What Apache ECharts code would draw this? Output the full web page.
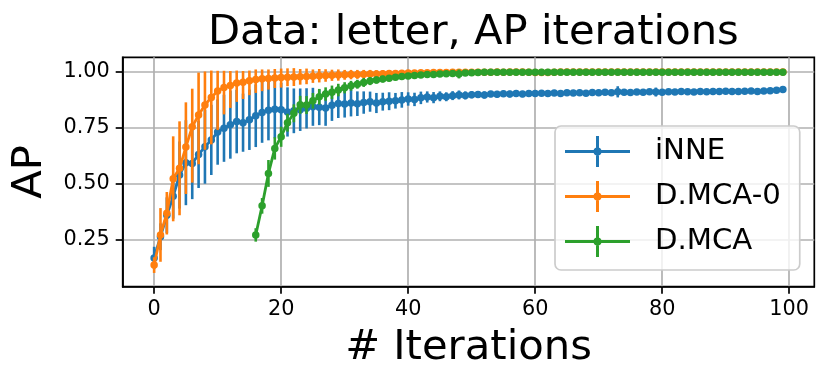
<!DOCTYPE html>
<html>
<head>
<meta charset="utf-8">
<script src="https://cdn.jsdelivr.net/npm/echarts@6/dist/echarts.min.js"></script>
<style>
  html, body { margin: 0; padding: 0; background: #ffffff; }
  #chart { width: 830px; height: 385px; }
</style>
</head>
<body>
<div id="chart"></div>
<script>
// ---- Data ----
const titleText = 'Data: letter, AP iterations';
const xName = '# Iterations';
const yName = 'AP';
const xTicks = [0, 20, 40, 60, 80, 100];
const yTicks = [0.25, 0.50, 0.75, 1.00];
const seriesNames = ['iNNE', 'D.MCA-0', 'D.MCA'];

// iterations 0..99
const iterations = [
  0,1,2,3,4,5,6,7,8,9,10,11,12,13,14,15,16,17,18,19,
  20,21,22,23,24,25,26,27,28,29,30,31,32,33,34,35,36,37,38,39,
  40,41,42,43,44,45,46,47,48,49,50,51,52,53,54,55,56,57,58,59,
  60,61,62,63,64,65,66,67,68,69,70,71,72,73,74,75,76,77,78,79,
  80,81,82,83,84,85,86,87,88,89,90,91,92,93,94,95,96,97,98,99
];

const inneMean = [
  0.167,0.262,0.358,0.443,0.538,0.593,0.590,0.630,0.664,0.695,
  0.730,0.747,0.763,0.777,0.772,0.785,0.803,0.818,0.828,0.832,
  0.830,0.820,0.825,0.830,0.836,0.843,0.841,0.838,0.850,0.858,
  0.855,0.860,0.857,0.862,0.866,0.860,0.866,0.868,0.870,0.874,
  0.878,0.876,0.883,0.887,0.884,0.890,0.888,0.893,0.896,0.894,
  0.897,0.898,0.896,0.900,0.899,0.901,0.900,0.902,0.900,0.903,
  0.902,0.904,0.903,0.905,0.903,0.906,0.905,0.906,0.904,0.907,
  0.906,0.908,0.906,0.910,0.908,0.907,0.909,0.908,0.910,0.909,
  0.908,0.910,0.909,0.911,0.910,0.909,0.911,0.910,0.912,0.911,
  0.913,0.912,0.911,0.913,0.914,0.912,0.914,0.915,0.917,0.920
];
// symmetric error (lower and upper)
const inneErr = [
  0.050,0.060,0.080,0.100,0.150,0.190,0.160,0.150,0.165,0.157,
  0.146,0.150,0.152,0.142,0.130,0.135,0.140,0.136,0.135,0.130,
  0.120,0.110,0.100,0.095,0.090,0.085,0.080,0.080,0.070,0.065,
  0.060,0.060,0.055,0.050,0.045,0.045,0.040,0.040,0.035,0.035,
  0.030,0.030,0.028,0.025,0.025,0.022,0.020,0.020,0.020,0.018,
  0.016,0.015,0.016,0.014,0.015,0.014,0.015,0.013,0.014,0.013,
  0.014,0.012,0.013,0.012,0.013,0.012,0.012,0.013,0.012,0.012,
  0.013,0.012,0.014,0.025,0.013,0.012,0.012,0.013,0.012,0.020,
  0.012,0.011,0.012,0.011,0.012,0.011,0.012,0.011,0.012,0.011,
  0.011,0.012,0.011,0.011,0.012,0.011,0.011,0.010,0.011,0.010
];

const dmca0Mean = [
  0.135,0.270,0.367,0.521,0.568,0.663,0.754,0.806,0.851,0.885,
  0.914,0.929,0.938,0.950,0.953,0.960,0.965,0.968,0.970,0.972,
  0.974,0.975,0.976,0.977,0.979,0.980,0.982,0.983,0.984,0.985,
  0.986,0.987,0.988,0.989,0.990,0.990,0.991,0.992,0.992,0.993,
  0.994,0.994,0.995,0.995,0.996,0.996,0.996,0.997,0.997,0.997,
  0.998,0.998,0.998,0.998,0.999,0.998,0.999,0.999,0.999,0.998,
  0.996,0.996,0.996,0.997,0.999,0.999,0.999,0.999,0.999,0.999,
  0.999,0.999,0.999,0.999,0.999,0.999,0.999,0.999,0.999,0.999,
  0.999,0.999,0.999,0.999,0.999,0.999,0.999,0.999,0.999,0.999,
  0.999,0.999,0.999,0.999,0.999,0.999,0.999,0.999,0.999,0.999
];
// lower error lengths
const dmca0ErrLow = [
  0.035,0.120,0.095,0.190,0.210,0.210,0.250,0.220,0.200,0.210,
  0.175,0.120,0.100,0.085,0.075,0.065,0.060,0.055,0.050,0.045,
  0.045,0.040,0.040,0.035,0.035,0.030,0.030,0.028,0.025,0.025,
  0.022,0.021,0.020,0.019,0.018,0.017,0.016,0.015,0.014,0.013,
  0.012,0.012,0.011,0.011,0.010,0.010,0.009,0.009,0.008,0.008,
  0.007,0.007,0.007,0.006,0.006,0.006,0.006,0.005,0.005,0.006,
  0.008,0.008,0.008,0.006,0.004,0.004,0.004,0.004,0.004,0.004,
  0.004,0.004,0.004,0.004,0.004,0.004,0.004,0.004,0.004,0.004,
  0.003,0.003,0.003,0.003,0.003,0.003,0.003,0.003,0.003,0.003,
  0.003,0.003,0.003,0.003,0.003,0.003,0.003,0.003,0.003,0.003
];
// upper error lengths
const dmca0ErrHigh = [
  0.035,0.120,0.095,0.190,0.210,0.200,0.170,0.190,0.150,0.120,
  0.090,0.075,0.065,0.055,0.050,0.045,0.045,0.042,0.040,0.040,
  0.040,0.040,0.040,0.035,0.035,0.030,0.030,0.028,0.025,0.025,
  0.022,0.021,0.020,0.019,0.018,0.017,0.016,0.015,0.014,0.013,
  0.012,0.012,0.011,0.011,0.010,0.010,0.009,0.009,0.008,0.008,
  0.007,0.007,0.007,0.006,0.006,0.006,0.006,0.005,0.005,0.006,
  0.008,0.008,0.008,0.006,0.004,0.004,0.004,0.004,0.004,0.004,
  0.004,0.004,0.004,0.004,0.004,0.004,0.004,0.004,0.004,0.004,
  0.003,0.003,0.003,0.003,0.003,0.003,0.003,0.003,0.003,0.003,
  0.003,0.003,0.003,0.003,0.003,0.003,0.003,0.003,0.003,0.003
];

// D.MCA starts at iteration 16
const dmcaIterations = [
  16,17,18,19,20,21,22,23,24,25,26,27,28,29,30,31,32,33,34,35,36,37,38,39,
  40,41,42,43,44,45,46,47,48,49,50,51,52,53,54,55,56,57,58,59,
  60,61,62,63,64,65,66,67,68,69,70,71,72,73,74,75,76,77,78,79,
  80,81,82,83,84,85,86,87,88,89,90,91,92,93,94,95,96,97,98,99
];
const dmcaMean = [
  0.270,0.400,0.545,0.657,0.709,0.772,0.814,0.852,0.851,0.870,0.888,0.900,
  0.908,0.918,0.928,0.937,0.944,0.952,0.958,0.963,0.967,0.971,0.975,0.978,
  0.981,0.983,0.985,0.987,0.988,0.990,0.991,0.992,0.990,0.994,
  0.995,0.996,0.997,0.997,0.998,0.998,0.998,0.998,0.998,0.998,
  0.998,0.998,0.998,0.998,0.998,0.998,0.998,0.998,0.998,0.998,
  0.998,0.998,0.998,0.998,0.998,0.998,0.998,0.998,0.998,0.998,
  0.998,0.998,0.998,0.998,0.998,0.998,0.998,0.998,0.998,0.998,
  0.998,0.998,0.998,0.998,0.998,0.998,0.998,0.998,0.998,0.998
];
const dmcaErr = [
  0.030,0.035,0.060,0.050,0.045,0.040,0.040,0.040,0.040,0.035,0.035,0.030,
  0.030,0.028,0.025,0.022,0.020,0.020,0.018,0.016,0.015,0.014,0.013,0.012,
  0.011,0.010,0.010,0.009,0.009,0.008,0.008,0.008,0.020,0.007,
  0.006,0.006,0.005,0.005,0.005,0.005,0.004,0.004,0.004,0.004,
  0.004,0.004,0.004,0.004,0.004,0.004,0.004,0.004,0.004,0.004,
  0.004,0.004,0.004,0.004,0.004,0.004,0.004,0.004,0.004,0.004,
  0.003,0.003,0.003,0.003,0.003,0.003,0.003,0.003,0.003,0.003,
  0.003,0.003,0.003,0.003,0.003,0.003,0.003,0.003,0.003,0.003
];

// ---- Styling ----
const colors = ['#1f77b4', '#ff7f0e', '#2ca02c'];
const FONT = 'DejaVu Sans';
const legendIcon = 'path://M0,14 L65,14 L65,17 L0,17 Z M31,0 L34,0 L34,31 L31,31 Z M28.5,15.5 A4,4 0 1 1 36.5,15.5 A4,4 0 1 1 28.5,15.5 Z';

function pairs(xs, ys) { return xs.map((x, i) => [x, ys[i]]); }
function quads(xs, ys, lo, hi) { return xs.map((x, i) => [x, ys[i], lo[i], hi[i]]); }

function errSeries(name, xs, ys, lo, hi, color, z) {
  return {
    name: name + ' err',
    type: 'custom',
    z: z,
    silent: true,
    encode: { x: 0, y: 1 },
    data: quads(xs, ys, lo, hi),
    renderItem: function (params, api) {
      const x = api.value(0), m = api.value(1);
      const p1 = api.coord([x, m - api.value(2)]);
      const p2 = api.coord([x, m + api.value(3)]);
      return {
        type: 'line',
        shape: { x1: p1[0], y1: p1[1], x2: p2[0], y2: p2[1] },
        style: { stroke: color, lineWidth: 2.6 }
      };
    }
  };
}
function lineSeries(name, xs, ys, color, z) {
  return {
    name: name,
    type: 'line',
    z: z,
    data: pairs(xs, ys),
    symbol: 'circle',
    symbolSize: 7.5,
    showAllSymbol: true,
    lineStyle: { color: color, width: 2.8 },
    itemStyle: { color: color },
    emphasis: { disabled: true }
  };
}

const chart = echarts.init(document.getElementById('chart'), null, { renderer: 'canvas' });
chart.setOption({
  animation: false,
  backgroundColor: '#ffffff',
  textStyle: { fontFamily: FONT },
  title: {
    text: titleText,
    left: 203,
    top: 7,
    textStyle: { fontFamily: FONT, fontSize: 41.7, fontWeight: 'normal', color: '#000' }
  },
  grid: {
    left: 122.7, right: 15.7, top: 57.3, bottom: 98.3,
    show: true, borderColor: '#000', borderWidth: 1.7, backgroundColor: 'transparent',
    containLabel: false
  },
  legend: {
    orient: 'vertical',
    left: 555, top: 126,
    padding: [10, 19, 13, 10],
    itemWidth: 65, itemHeight: 31, itemGap: 14,
    icon: legendIcon,
    data: seriesNames,
    backgroundColor: 'rgba(255,255,255,0.8)',
    borderColor: '#cccccc', borderWidth: 1.7, borderRadius: 6,
    textStyle: { fontFamily: FONT, fontSize: 29.2, color: '#000', padding: [0, 0, 0, 20] },
    selectedMode: false,
    z: 20
  },
  xAxis: {
    type: 'value',
    min: -4.95, max: 103.95,
    name: xName,
    nameLocation: 'middle',
    nameGap: 40,
    nameTextStyle: { fontFamily: FONT, fontSize: 41.7, color: '#000' },
    axisLine: { show: true, onZero: false, lineStyle: { color: '#000', width: 1.7 } },
    axisTick: { show: true, length: 7, customValues: xTicks, lineStyle: { color: '#000', width: 1.7 } },
    axisLabel: { customValues: xTicks, margin: 12, fontFamily: FONT, fontSize: 20.8, color: '#000' },
    splitLine: { show: true, lineStyle: { color: '#b0b0b0', width: 1.7 } }
  },
  yAxis: {
    type: 'value',
    min: 0.0385, max: 1.0644,
    name: yName,
    nameLocation: 'middle',
    nameGap: 72,
    nameTextStyle: { fontFamily: FONT, fontSize: 41.7, color: '#000' },
    axisLine: { show: true, onZero: false, lineStyle: { color: '#000', width: 1.7 } },
    axisTick: { show: true, length: 7, customValues: yTicks, lineStyle: { color: '#000', width: 1.7 } },
    axisLabel: {
      customValues: yTicks, margin: 13, fontFamily: FONT, fontSize: 20.8, color: '#000',
      formatter: v => v.toFixed(2)
    },
    splitLine: { show: true, lineStyle: { color: '#b0b0b0', width: 1.7 } }
  },
  series: [
    errSeries(seriesNames[0], iterations, inneMean, inneErr, inneErr, colors[0], 2),
    lineSeries(seriesNames[0], iterations, inneMean, colors[0], 3),
    errSeries(seriesNames[1], iterations, dmca0Mean, dmca0ErrLow, dmca0ErrHigh, colors[1], 4),
    lineSeries(seriesNames[1], iterations, dmca0Mean, colors[1], 5),
    errSeries(seriesNames[2], dmcaIterations, dmcaMean, dmcaErr, dmcaErr, colors[2], 6),
    lineSeries(seriesNames[2], dmcaIterations, dmcaMean, colors[2], 7)
  ]
});
</script>
</body>
</html>
